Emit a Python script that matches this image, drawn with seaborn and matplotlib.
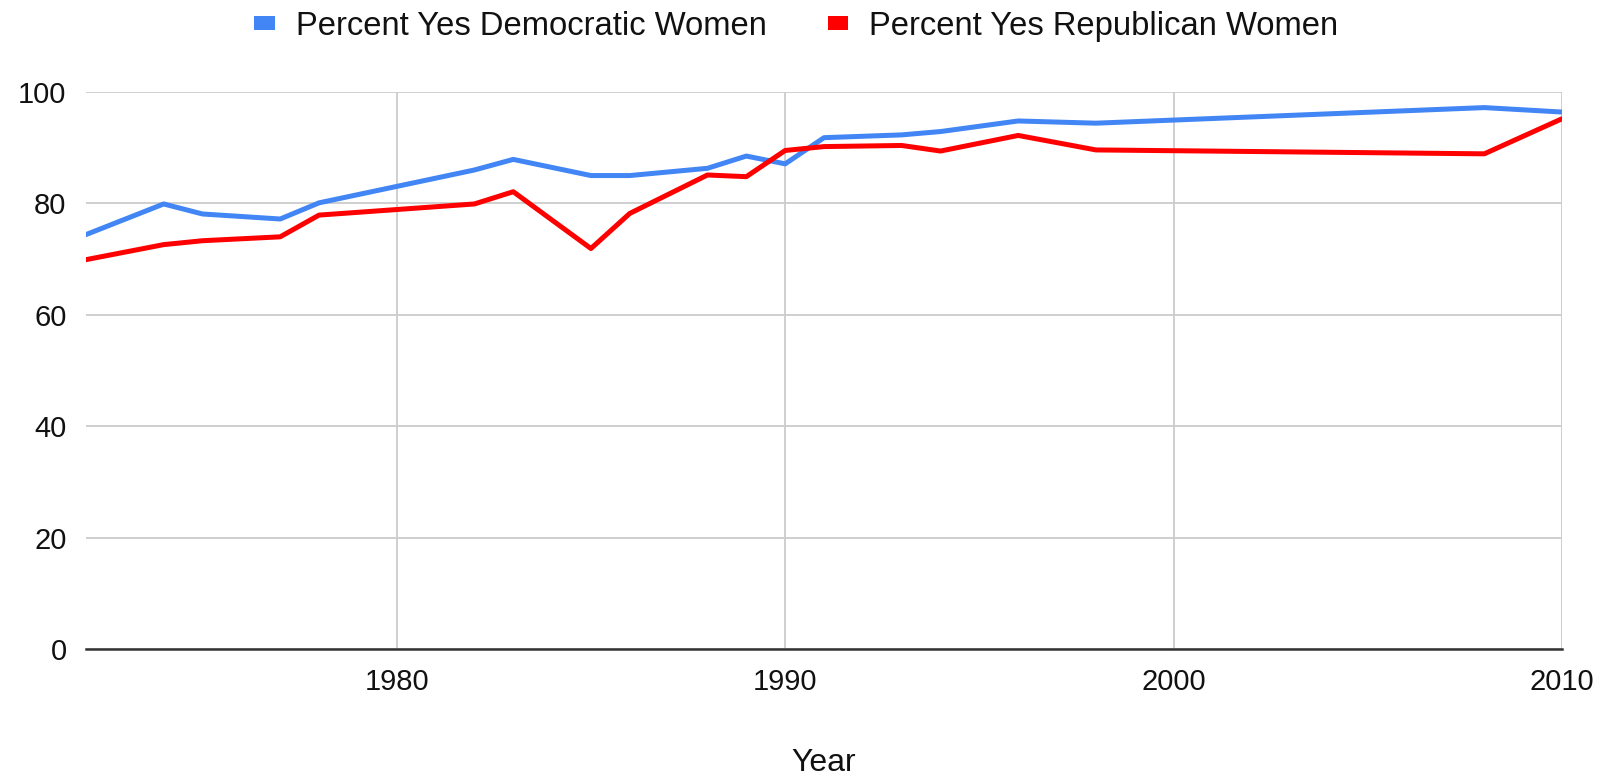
import pandas as pd
import seaborn as sns
import matplotlib.pyplot as plt
from matplotlib.patches import Patch

years = [1972, 1974, 1975, 1977, 1978, 1982, 1983, 1985, 1986, 1988,
         1989, 1990, 1991, 1993, 1994, 1996, 1998, 2008, 2010]
dem_women = [74.4, 79.9, 78.1, 77.2, 80.1, 86.0, 87.9, 85.0, 85.0, 86.3,
             88.5, 87.1, 91.8, 92.3, 92.9, 94.8, 94.4, 97.2, 96.4]
rep_women = [69.9, 72.6, 73.3, 74.0, 77.9, 79.9, 82.1, 71.9, 78.2, 85.1,
             84.8, 89.5, 90.2, 90.4, 89.4, 92.2, 89.6, 88.9, 95.2]
series_names = ['Percent Yes Democratic Women', 'Percent Yes Republican Women']
colors = ['#4285F4', '#FF0000']

df = pd.DataFrame({'Year': years,
                   series_names[0]: dem_women,
                   series_names[1]: rep_women})
df_long = df.melt(id_vars='Year', var_name='Series', value_name='Percent')

sns.set_style('white')
plt.rcParams['font.family'] = ['Liberation Sans', 'DejaVu Sans']

fig = plt.figure(figsize=(16.07, 7.77), dpi=100)
ax = fig.add_axes([0.0535, 0.1647, 0.9185, 0.7169])

sns.lineplot(data=df_long, x='Year', y='Percent', hue='Series',
             palette=colors, linewidth=3.6, legend=False, ax=ax, zorder=3)

ax.set_xlim(1972, 2010)
ax.set_ylim(0, 100)
ax.set_xticks([1980, 1990, 2000, 2010])
ax.set_yticks([0, 20, 40, 60, 80, 100])
ax.grid(True, color='#cccccc', linewidth=1.3)
ax.set_axisbelow(True)
for s in ['top', 'left', 'right']:
    ax.spines[s].set_visible(False)
ax.spines['bottom'].set_color('#333333')
ax.spines['bottom'].set_linewidth(1.8)
ax.spines['bottom'].set_zorder(4)
ax.tick_params(axis='both', length=0, labelsize=21, colors='#111111')
ax.tick_params(axis='y', pad=14)
ax.tick_params(axis='x', pad=14)
ax.set_xlabel('Year', fontsize=23, labelpad=37, color='#111111')
ax.set_ylabel('')

handles = [Patch(facecolor=c, edgecolor='none') for c in colors]
fig.legend(handles, series_names, loc='upper center', bbox_to_anchor=(0.4955, 1.024),
           ncol=2, frameon=False, fontsize=23.6, handlelength=0.63, handleheight=0.3,
           handletextpad=0.63, columnspacing=1.87, labelcolor='#111111')

fig.savefig('out.png', dpi=100)
